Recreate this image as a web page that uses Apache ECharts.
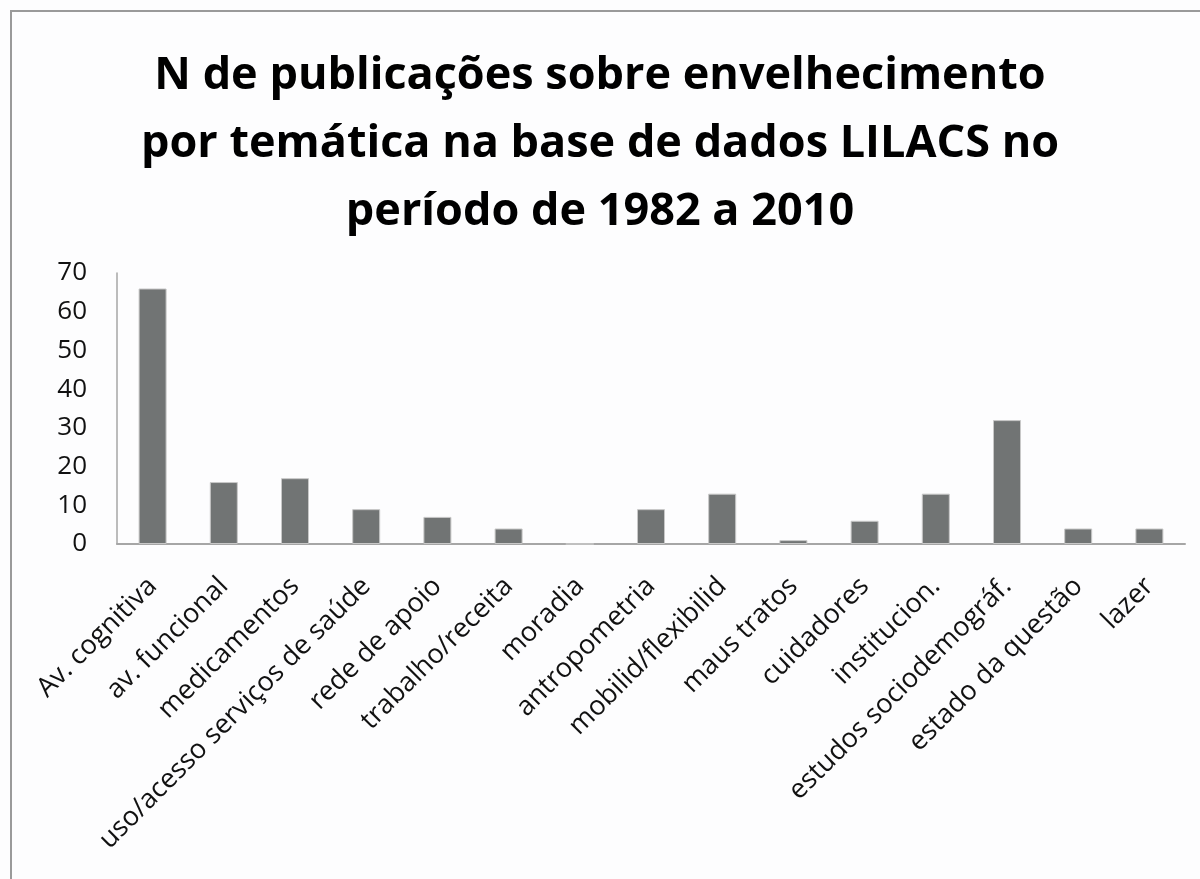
<!DOCTYPE html>
<html>
<head>
<meta charset="utf-8">
<script src="https://cdn.jsdelivr.net/npm/echarts@6/dist/echarts.min.js"></script>
<style>
html,body{margin:0;padding:0;background:#fdfdfe;}
#chart{width:1200px;height:879px;}
</style>
</head>
<body>
<div id="chart"></div>
<script>
const titleLines = ["N de publicações sobre envelhecimento", "por temática na base de dados LILACS no", "período de 1982 a 2010"];
const categories = ["Av. cognitiva", "av. funcional", "medicamentos", "uso/acesso serviços de saúde", "rede de apoio", "trabalho/receita", "moradia", "antropometria", "mobilid/flexibilid", "maus tratos", "cuidadores", "institucion.", "estudos sociodemográf.", "estado da questão", "lazer"];
const values = [66, 16, 17, 9, 7, 4, 0, 9, 13, 1, 6, 13, 32, 4, 4];
const yTicks = {min: 0, max: 70, interval: 10};

const chart = echarts.init(document.getElementById('chart'));
chart.setOption({
  backgroundColor: '#fdfdfe',
  animation: false,
  title: {
    text: titleLines.join('\n'),
    left: 'center',
    top: 37,
    textStyle: {fontFamily: 'Open Sans', fontWeight: 'bold', fontSize: 45, color: '#000', lineHeight: 68}
  },
  graphic: [{
    type: 'rect',
    shape: {x: 11, y: 11, width: 1200, height: 900},
    style: {fill: 'none', stroke: '#9a9a9a', lineWidth: 2},
    silent: true
  }],
  grid: {left: 117, right: 15, top: 273, bottom: 335},
  xAxis: {
    type: 'category',
    data: categories,
    axisLine: {lineStyle: {color: '#a6a6a6', width: 2}},
    axisTick: {show: false},
    axisLabel: {rotate: 45, interval: 0, margin: 38, fontFamily: 'Open Sans', fontSize: 27, color: '#111'}
  },
  yAxis: {
    type: 'value',
    min: yTicks.min, max: yTicks.max, interval: yTicks.interval,
    axisLine: {show: true, lineStyle: {color: '#a6a6a6', width: 1.5}},
    axisTick: {show: false},
    splitLine: {show: false},
    axisLabel: {margin: 30, fontFamily: 'Open Sans', fontSize: 26, color: '#111'}
  },
  series: [{
    type: 'bar',
    data: values,
    barWidth: 28,
    itemStyle: {color: '#717474', borderColor: '#c8c8c8', borderWidth: 1}
  }]
});
</script>
</body>
</html>
